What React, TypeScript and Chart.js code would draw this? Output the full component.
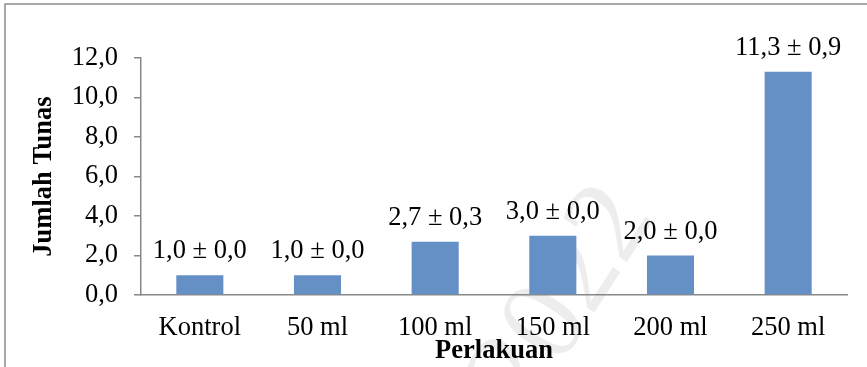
import React, { useEffect, useRef } from "react";
import { Chart, registerables } from "chart.js";

Chart.register(...registerables);

const categories = ["Kontrol", "50 ml", "100 ml", "150 ml", "200 ml", "250 ml"];
const means = [1.0, 1.0, 2.7, 3.0, 2.0, 11.3];
const errors = [0.0, 0.0, 0.3, 0.0, 0.0, 0.9];
const yTitle = "Jumlah Tunas";
const xTitle = "Perlakuan";
const watermark = "2022";

const FONT = "'Liberation Serif', 'Times New Roman', serif";
const FS = 26.5;
const fmt = (v: number) => v.toFixed(1).replace(".", ",");

const framePlugin = {
  id: "frame",
  beforeDraw(chart: any) {
    const ctx = chart.ctx;
    ctx.save();
    ctx.fillStyle = "#ffffff";
    ctx.fillRect(0, 0, chart.width, chart.height);
    // watermark
    ctx.translate(565, 300);
    ctx.rotate(-1.0);
    ctx.fillStyle = "rgba(0,0,0,0.07)";
    ctx.font = `120px ${FONT}`;
    ctx.textAlign = "center";
    ctx.textBaseline = "middle";
    ctx.fillText(watermark, 0, 0);
    ctx.restore();
    ctx.save();
    ctx.strokeStyle = "#8c8c8c";
    ctx.lineWidth = 1.5;
    ctx.beginPath();
    ctx.moveTo(5, chart.height + 5);
    ctx.lineTo(5, 4);
    ctx.lineTo(chart.width + 5, 4);
    ctx.stroke();
    ctx.restore();
  },
};

const labelPlugin = {
  id: "barLabels",
  afterDatasetsDraw(chart: any) {
    const ctx = chart.ctx;
    const meta = chart.getDatasetMeta(0);
    ctx.save();
    ctx.fillStyle = "#000000";
    ctx.font = `${FS}px ${FONT}`;
    ctx.textAlign = "center";
    ctx.textBaseline = "alphabetic";
    meta.data.forEach((bar: any, i: number) => {
      const txt = `${fmt(means[i])} \u00B1 ${fmt(errors[i])}`;
      ctx.fillText(txt, bar.x, bar.y - 17);
    });
    ctx.restore();
  },
};

export default function App() {
  const ref = useRef<HTMLCanvasElement>(null);
  useEffect(() => {
    if (!ref.current) return;
    const chart = new Chart(ref.current, {
      type: "bar",
      data: {
        labels: categories,
        datasets: [
          {
            data: means,
            backgroundColor: "#6590c6",
            borderWidth: 0,
            barPercentage: 0.4,
            categoryPercentage: 1,
          },
        ],
      },
      options: {
        animation: false,
        responsive: false,
        maintainAspectRatio: false,
        layout: { padding: { top: 58, right: 20, left: 0, bottom: 0 } },
        plugins: {
          legend: { display: false },
          tooltip: { enabled: false },
        },
        scales: {
          x: {
            grid: { display: false, drawTicks: false },
            border: { display: true, color: "#888888", width: 1.5 },
            ticks: {
              color: "#000000",
              font: { family: FONT, size: FS },
              padding: 17,
              maxRotation: 0,
              autoSkip: false,
            },
            title: {
              display: true,
              text: xTitle,
              color: "#000000",
              font: { family: FONT, size: FS, weight: "bold", lineHeight: 1.2 },
              padding: { top: 0, bottom: 0 },
            },
            afterFit(scale: any) {
              scale.height = 72;
            },
          },
          y: {
            min: 0,
            max: 12,
            grid: {
              drawOnChartArea: false,
              drawTicks: true,
              tickLength: 7,
              color: "#888888",
              lineWidth: 1.5,
            },
            border: { display: true, color: "#888888", width: 1.5 },
            ticks: {
              stepSize: 2,
              color: "#000000",
              font: { family: FONT, size: FS },
              padding: 16,
              callback: (v: any) => fmt(Number(v)),
            },
            title: {
              display: true,
              text: yTitle,
              color: "#000000",
              font: { family: FONT, size: FS, weight: "bold", lineHeight: 1.2 },
              padding: { top: 28, bottom: 0 },
            },
            afterFit(scale: any) {
              scale.width = 141;
            },
          },
        },
      },
      plugins: [framePlugin, labelPlugin],
    } as any);
    return () => chart.destroy();
  }, []);
  return (
    <div style={{ position: "absolute", left: 0, top: 0, width: 867, height: 367 }}>
      <canvas ref={ref} width={867} height={367} style={{ display: "block" }} />
    </div>
  );
}
